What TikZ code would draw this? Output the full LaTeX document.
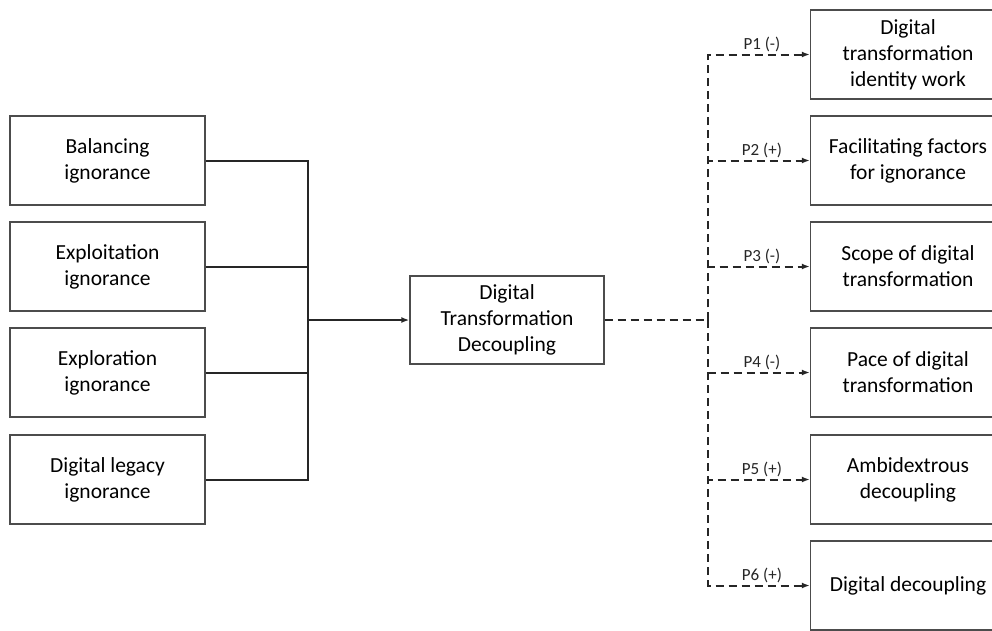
\documentclass[tikz,border=0pt]{standalone}
\usepackage{fontspec}
\setmainfont{Carlito}
\usetikzlibrary{arrows.meta}

\begin{document}
\begin{tikzpicture}[x=1pt,y=-1pt,
  box/.style={draw=black!70,line width=1.4pt,minimum width=195pt,minimum height=89pt,
    align=center,inner sep=0pt,font=\fontsize{21.5}{26}\selectfont},
  link/.style={line width=2pt,black!85},
  dlink/.style={link,dash pattern=on 8pt off 5pt},
  tip/.style={-{Latex[length=8pt,width=6pt]}},
  plabel/.style={above,inner sep=2pt,xshift=3pt,font=\fontsize{17}{19}\selectfont}]
\clip (0,0) rectangle (992,630);
% ignorance types
\node[box] (bal) at (107.5,160.5) {Balancing\\ignorance};
\node[box] (expt) at (107.5,266.5) {Exploitation\\ignorance};
\node[box] (expr) at (107.5,372.5) {Exploration\\ignorance};
\node[box] (leg) at (107.5,479.5) {Digital legacy\\ignorance};
% decoupling
\node[box,minimum width=194pt,minimum height=88pt] (dtd) at (507,320) {Digital\\Transformation\\Decoupling};
% outcomes
\node[box] (r1) at (908,54.5) {Digital\\transformation\\identity work};
\node[box] (r2) at (908,160.5) {Facilitating factors\\for ignorance};
\node[box] (r3) at (908,266.5) {Scope of digital\\transformation};
\node[box] (r4) at (908,372.5) {Pace of digital\\transformation};
\node[box] (r5) at (908,479.5) {Ambidextrous\\decoupling};
\node[box] (r6) at (908,585.5) {Digital decoupling};
\coordinate (jl) at (308,320);
\coordinate (jr) at (708,320);
\draw[link] (bal.east) -| (jl);
\draw[link] (expt.east) -| (jl);
\draw[link] (expr.east) -| (jl);
\draw[link] (leg.east) -| (jl);
\draw[link,tip] (jl) -- (dtd.west);
\draw[dlink] (dtd.east) -- (jr);
\draw[dlink,tip] (jr) |- node[plabel,pos=0.75] {P1 (-)} (r1.west);
\draw[dlink,tip] (jr) |- node[plabel,pos=0.75] {P2 (+)} (r2.west);
\draw[dlink,tip] (jr) |- node[plabel,pos=0.75] {P3 (-)} (r3.west);
\draw[dlink,tip] (jr) |- node[plabel,pos=0.75] {P4 (-)} (r4.west);
\draw[dlink,tip] (jr) |- node[plabel,pos=0.75] {P5 (+)} (r5.west);
\draw[dlink,tip] (jr) |- node[plabel,pos=0.75] {P6 (+)} (r6.west);
\end{tikzpicture}
\end{document}
